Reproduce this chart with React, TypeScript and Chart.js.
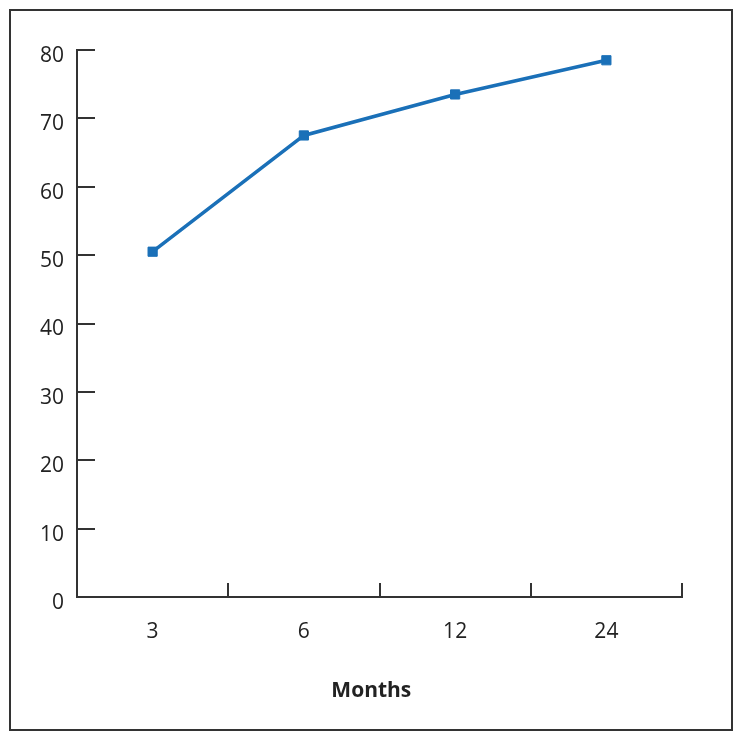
import React, { useEffect, useRef } from "react";
import { Chart, registerables } from "chart.js";

Chart.register(...registerables);

const categories = ["3", "6", "12", "24"];
const values = [50.5, 67.5, 73.5, 78.5];
const yMin = 0;
const yMax = 80;
const yStep = 10;
const xTitle = "Months";

const AXIS = "#333333";
const TEXT = "#222222";
const LINE = "#1a70b8";

const inwardTicks = {
  id: "inwardTicks",
  afterDatasetsDraw(chart: any) {
    const { ctx, chartArea } = chart;
    const x = chart.scales.x;
    const y = chart.scales.y;
    ctx.save();
    ctx.strokeStyle = AXIS;
    ctx.lineWidth = 2;
    ctx.beginPath();
    y.ticks.forEach((t: any) => {
      if (t.value === yMin) return;
      const py = Math.round(y.getPixelForValue(t.value));
      ctx.moveTo(chartArea.left, py);
      ctx.lineTo(chartArea.left + 18, py);
    });
    for (let i = 0; i < categories.length; i++) {
      const px = Math.round(x.getPixelForValue(i + 0.5));
      ctx.moveTo(px, chartArea.bottom);
      ctx.lineTo(px, chartArea.bottom - 14);
    }
    ctx.stroke();
    ctx.restore();
  },
};

export default function App() {
  const ref = useRef<HTMLCanvasElement | null>(null);
  useEffect(() => {
    if (!ref.current) return;
    const chart = new Chart(ref.current, {
      type: "line",
      data: {
        labels: categories,
        datasets: [
          {
            data: values,
            borderColor: LINE,
            backgroundColor: LINE,
            borderWidth: 3.5,
            pointStyle: "rect",
            pointRadius: 6.5,
            pointBorderWidth: 1,
            pointBackgroundColor: LINE,
            pointBorderColor: LINE,
            tension: 0,
          },
        ],
      },
      options: {
        animation: false,
        responsive: false,
        layout: { padding: { top: 50, right: 62, bottom: 0, left: 0 } },
        plugins: { legend: { display: false }, tooltip: { enabled: false } },
        scales: {
          x: {
            type: "category",
            offset: true,
            grid: { display: true, drawOnChartArea: false, drawTicks: false, color: "rgba(0,0,0,0)" },
            border: { display: true, color: AXIS, width: 2 },
            ticks: {
              color: TEXT,
              padding: 22,
              font: { family: "'Open Sans', sans-serif", size: 21 },
            },
            title: {
              display: true,
              text: xTitle + "   ",
              color: TEXT,
              padding: { top: 0, bottom: 37 },
              font: { family: "'Open Sans', sans-serif", size: 21, weight: "bold" },
            },
            afterFit(scale: any) {
              scale.height = 144;
              scale.paddingLeft = 0;
              scale.paddingRight = 0;
            },
          },
          y: {
            min: yMin,
            max: yMax,
            grid: { display: true, drawOnChartArea: false, drawTicks: false, color: "rgba(0,0,0,0)" },
            border: { display: true, color: AXIS, width: 2 },
            ticks: {
              stepSize: yStep,
              color: TEXT,
              padding: 13,
              labelOffset: 6,
              font: { family: "'Open Sans', sans-serif", size: 21 },
            },
            afterFit(scale: any) {
              scale.width = 77;
              scale.paddingTop = 0;
              scale.paddingBottom = 0;
            },
          },
        },
      },
      plugins: [inwardTicks],
    });
    return () => chart.destroy();
  }, []);

  return (
    <div style={{ position: "absolute", left: 0, top: 0, width: 744, height: 741, background: "#fff" }}>
      <div
        style={{
          position: "absolute",
          left: 9,
          top: 9,
          width: 724,
          height: 722,
          border: "2px solid #333",
          boxSizing: "border-box",
        }}
      />
      <canvas
        ref={ref}
        width={744}
        height={741}
        style={{ position: "absolute", left: 0, top: 0, display: "block" }}
      />
    </div>
  );
}
